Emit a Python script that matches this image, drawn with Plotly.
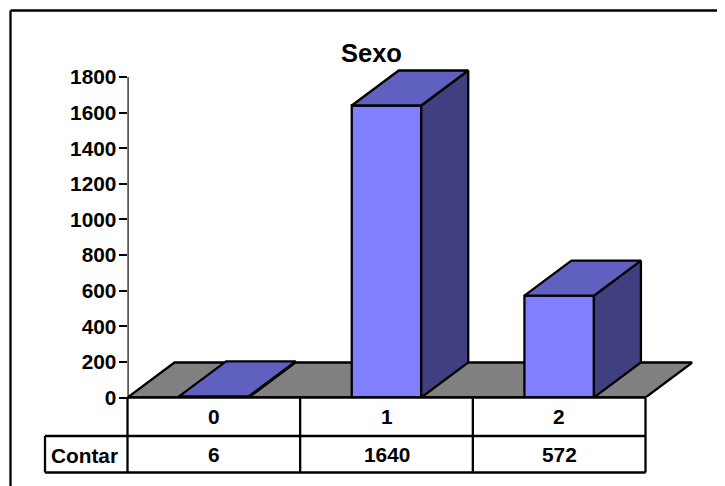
import plotly.graph_objects as go

# Data
categories = ["0", "1", "2"]
values = [6, 1640, 572]
y_ticks = [0, 200, 400, 600, 800, 1000, 1200, 1400, 1600, 1800]
title_text = "Sexo"
row_label = "Contar"

PAGE = 8              # browser's body margin
W, H = 725 - PAGE, 486 - PAGE
# axis geometry in window pixels
PX_L, PX_R, PY_B, PY_T = 127.5, 692.5, 397.5, 60.0
CAT_PX = (645.5 - 127.5) / 3
VAL_PX = (397.5 - 77.0) / 1800
DX = 47 / CAT_PX      # depth offset, category units
DY = 35 / VAL_PX      # depth offset, value units
BAR_W = 69.5 / CAT_PX

FRONT, TOP, SIDE = "#8080FF", "#6060C0", "#404080"
FLOOR = "#808080"
LW = 2.3
idx = list(range(len(categories)))
X0 = idx[0] - 0.5
X1 = idx[-1] + 0.5


def poly(xs, ys, fill, lw=LW):
    return go.Scatter(x=xs + xs[:1], y=ys + ys[:1], mode="lines", fill="toself",
                      fillcolor=fill, line=dict(color="black", width=lw),
                      hoverinfo="skip", showlegend=False, cliponaxis=False)


traces = [poly([X0, X1, X1 + DX, X0 + DX], [0, 0, DY, DY], FLOOR)]
for i, v in zip(idx, values):
    a, b = i - BAR_W / 2, i + BAR_W / 2
    traces.append(poly([a, b, b, a], [0, 0, v, v], FRONT))
    traces.append(poly([b, b + DX, b + DX, b], [0, DY, v + DY, v], SIDE))
    traces.append(poly([a, b, b + DX, a + DX], [v, v, v + DY, v + DY], TOP))
# value axis line
traces.append(go.Scatter(x=[X0, X0], y=[y_ticks[0], y_ticks[-1]], mode="lines",
                         line=dict(color="black", width=LW), hoverinfo="skip",
                         showlegend=False, cliponaxis=False))

fig = go.Figure(traces)


def px(x):
    return (x - PAGE) / W


def py(y):
    return 1 - (y - PAGE) / H


FONT = dict(family="Liberation Sans, Arial, sans-serif", size=20.8, color="black")

# Table grid and outer frame
T_L, T_A, T_R = 45.0, 127.5, 645.5
R0, R1, R2 = 397.5, 436.0, 472.5
shapes = []


def seg(x0, y0, x1, y1, lw=LW):
    shapes.append(dict(type="line", xref="paper", yref="paper", x0=px(x0), y0=py(y0),
                       x1=px(x1), y1=py(y1), line=dict(color="black", width=lw)))


seg(T_A, R0, T_R, R0)
seg(T_L, R1, T_R, R1)
seg(T_L, R2, T_R, R2)
seg(T_L, R1, T_L, R2)
for k in range(len(categories) + 1):
    xx = T_A + k * CAT_PX
    seg(xx, R0, xx, R2)
# frame
seg(10.5, 10.5, 725, 10.5)
seg(10.5, 10.5, 10.5, 486)

annotations = []
for i, c, v in zip(idx, categories, values):
    xc = T_A + (i + 0.5) * CAT_PX
    annotations.append(dict(xref="paper", yref="paper", x=px(xc), y=py((R0 + R1) / 2 - 0.5),
                            text=f"<b>{c}</b>", showarrow=False, font=FONT,
                            xanchor="center", yanchor="middle"))
    annotations.append(dict(xref="paper", yref="paper", x=px(xc), y=py((R1 + R2) / 2),
                            text=f"<b>{v}</b>", showarrow=False, font=FONT,
                            xanchor="center", yanchor="middle"))
annotations.append(dict(xref="paper", yref="paper", x=px(84.5), y=py((R1 + R2) / 2 + 1),
                        text=f"<b>{row_label}</b>", showarrow=False, font=FONT,
                        xanchor="center", yanchor="middle"))
annotations.append(dict(xref="paper", yref="paper", x=px(371.5), y=py(53.5),
                        text=f"<b>{title_text}</b>", showarrow=False,
                        font=dict(family=FONT["family"], size=25.5, color="black"),
                        xanchor="center", yanchor="middle"))

fig.update_layout(
    template="none",
    width=W, height=H, autosize=False,
    margin=dict(l=0, r=0, t=0, b=0, pad=0),
    paper_bgcolor="white", plot_bgcolor="white",
    showlegend=False, shapes=shapes, annotations=annotations,
    xaxis=dict(domain=[px(PX_L), px(PX_R)], range=[X0, X0 + (PX_R - PX_L) / CAT_PX],
               visible=False, fixedrange=True, automargin=False),
    yaxis=dict(domain=[py(PY_B), py(PY_T)], range=[0, (PY_B - PY_T) / VAL_PX],
               tickvals=y_ticks, ticktext=[f"<b>{t}</b>" for t in y_ticks],
               tickfont=FONT, ticks="outside", ticklen=8, tickwidth=2.3, tickcolor="black",
               ticklabelstandoff=-2,
               showgrid=False, zeroline=False, showline=False, fixedrange=True, automargin=False),
)
fig.write_html("out.html", config=dict(displayModeBar=False))
